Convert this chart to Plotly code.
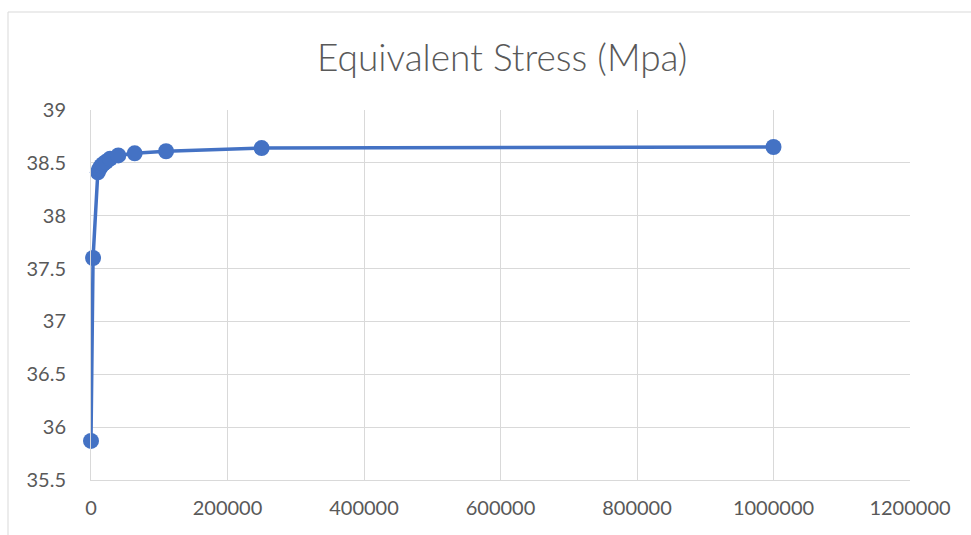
import plotly.graph_objects as go

elements = [0, 3000, 10000, 12000, 15000, 18000, 22000, 28000, 40000, 64000, 110000, 250000, 1000000]
stress = [35.87, 37.60, 38.41, 38.44, 38.47, 38.49, 38.51, 38.54, 38.57, 38.59, 38.61, 38.64, 38.65]

x_ticks = [0, 200000, 400000, 600000, 800000, 1000000, 1200000]
y_ticks = [35.5, 36, 36.5, 37, 37.5, 38, 38.5, 39]

blue = "#4472C4"
grid = "#d9d9d9"
txt = "#595959"
font = "Lato, Carlito, 'Liberation Sans', sans-serif"

fig = go.Figure()
fig.add_trace(go.Scatter(
    x=elements, y=stress, mode="lines+markers",
    line=dict(color=blue, width=3.5),
    marker=dict(color=blue, size=16),
    cliponaxis=False,
    showlegend=False,
))

L, R, T, B = 91, 61, 110, 55
W, H = 971, 535
pw, ph = W - L - R, H - T - B

fig.update_layout(
    width=W, height=H,
    margin=dict(l=L, r=R, t=T, b=B),
    paper_bgcolor="white", plot_bgcolor="white",
    font=dict(family=font, color=txt, size=20),
    xaxis=dict(range=[0, 1200000], tickvals=x_ticks, ticktext=[str(v) for v in x_ticks],
               showgrid=True, gridcolor=grid, gridwidth=1, zeroline=False,
               showline=True, linecolor=grid, linewidth=1,
               ticks="outside", ticklen=10, tickcolor="rgba(0,0,0,0)",
               tickfont=dict(size=20, color=txt)),
    yaxis=dict(range=[35.5, 39], tickvals=y_ticks, ticktext=[f"{v:g}" for v in y_ticks],
               showgrid=True, gridcolor=grid, gridwidth=1, zeroline=False,
               showline=True, linecolor=grid, linewidth=1,
               ticks="outside", ticklen=20, tickcolor="rgba(0,0,0,0)",
               tickfont=dict(size=20, color=txt)),
    shapes=[dict(type="rect", xref="paper", yref="paper",
                 x0=(8 - L) / pw, x1=(W + 20 - L) / pw,
                 y0=-(B + 20) / ph, y1=(H - B - 12) / ph,
                 line=dict(color=grid, width=1), layer="below")],
    annotations=[dict(text="Equivalent Stress (Mpa)", xref="paper", yref="paper",
                      x=(502 - L) / pw, y=(H - B - 57) / ph, xanchor="center", yanchor="middle",
                      showarrow=False, font=dict(size=37, color=txt, family=font, weight=300))],
)

fig.write_html("out.html")
